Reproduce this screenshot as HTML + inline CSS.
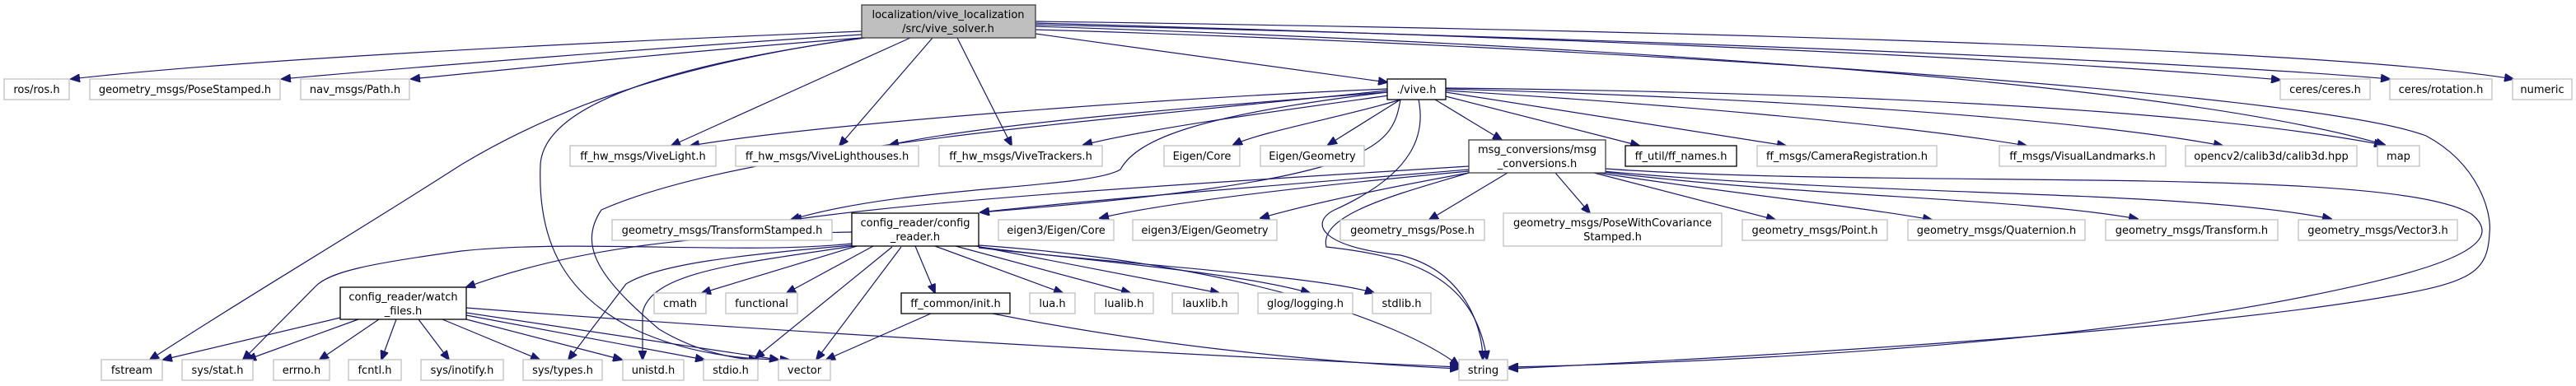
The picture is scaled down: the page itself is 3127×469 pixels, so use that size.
<!DOCTYPE html>
<html><head><meta charset="utf-8"><style>
html,body{margin:0;padding:0;background:#fff;}
svg{display:block;}
text{font-family:"DejaVu Sans","Liberation Sans",sans-serif;font-size:13px;fill:#000;text-anchor:middle;}
.e{fill:#fff;stroke:#bfbfbf;stroke-width:1.3;}
.d{fill:#fff;stroke:#000;stroke-width:1.3;}
path{fill:none;stroke:#191970;stroke-width:1.2;}
</style></head><body>
<svg width="3127" height="469" viewBox="0 0 3127 469" xmlns="http://www.w3.org/2000/svg">
<defs><marker id="a" markerWidth="12" markerHeight="10" refX="11" refY="5" orient="auto" markerUnits="userSpaceOnUse"><polygon points="0,0 12,5 0,10" fill="#191970" stroke="#191970"/></marker></defs>
<g marker-end="url(#a)">
<path d="M1046,38 C700,52 300,72 86,96"/>
<path d="M1046,42 C800,58 520,80 342,96"/>
<path d="M1046,46 C860,60 660,80 499,96"/>
<path d="M1048,46 C800,80 660,140 560,200 C420,290 300,360 182,437"/>
<path d="M1050,46 C800,80 660,130 656,200 C652,300 690,360 770,400 C850,437 930,437 958,437"/>
<path d="M1105,46 L815,177"/>
<path d="M1132,46 L1019,177"/>
<path d="M1162,46 L1228,177"/>
<path d="M1257,41 L1684,100"/>
<path d="M1257,28 C1700,40 2400,65 2768,97"/>
<path d="M1257,30 C1800,42 2600,70 2901,96"/>
<path d="M1257,26 C1900,35 2800,55 3051,96"/>
<path d="M1257,32 C1800,50 2600,90 2895,176"/>
<path d="M1257,36 C1900,55 2800,110 2945,165 C3010,200 3025,260 3022,283 C3020,330 3001,343 2900,360 C2700,395 2300,425 1832,448"/>
<path d="M1684,108 C1400,120 1000,150 838,177"/>
<path d="M1684,112 C1450,130 1200,150 1080,176"/>
<path d="M1686,116 C1550,135 1400,155 1315,176"/>
<path d="M1700,121 C1640,140 1530,160 1497,176"/>
<path d="M1700,121 L1612,176"/>
<path d="M1742,121 L1823,170"/>
<path d="M1755,117 L1990,177"/>
<path d="M1755,112 L2168,177"/>
<path d="M1755,110 C2000,125 2300,150 2460,177"/>
<path d="M1755,108 C2100,118 2500,140 2698,177"/>
<path d="M1755,107 C2200,112 2650,130 2893,176"/>
<path d="M1684,112 C1450,140 1380,170 1360,206 C1320,230 1100,225 960,267"/>
<path d="M1684,110 C1300,150 900,180 730,255 C700,300 730,340 800,400 C850,430 900,437 920,437"/>
<path d="M1700,121 C1690,180 1670,220 1190,258"/>
<path d="M1722,121 C1730,160 1720,210 1620,255 C1590,270 1600,300 1700,310 C1780,330 1800,400 1800,437"/>
<path d="M1783,202 C1500,220 1150,240 962,267"/>
<path d="M1783,206 C1550,225 1300,245 1190,258"/>
<path d="M1783,208 C1600,225 1420,245 1335,265"/>
<path d="M1783,210 C1700,225 1600,245 1530,265"/>
<path d="M1830,210 L1735,267"/>
<path d="M1888,210 L1930,259"/>
<path d="M1935,210 L2155,267"/>
<path d="M1940,210 C2100,235 2250,250 2345,267"/>
<path d="M1945,209 C2200,240 2450,240 2595,266"/>
<path d="M1945,208 C2300,240 2650,230 2830,266"/>
<path d="M1783,210 C1700,235 1600,260 1610,300 C1700,310 1790,330 1805,437"/>
<path d="M1949,205 C2300,230 2900,200 3000,260 C3050,300 2950,330 2800,360 C2500,420 2100,440 1832,446"/>
<path d="M1034,282 C850,285 700,300 566,349"/>
<path d="M1040,299 L852,356"/>
<path d="M1060,299 L955,356"/>
<path d="M1111,299 L1135,356"/>
<path d="M1135,299 L1290,356"/>
<path d="M1160,299 L1372,356"/>
<path d="M1185,299 L1480,356"/>
<path d="M1188,300 C1300,315 1500,330 1590,356"/>
<path d="M1188,301 C1350,320 1600,335 1668,356"/>
<path d="M1083,300 L917,435"/>
<path d="M1094,300 L991,437"/>
<path d="M1034,296 C900,310 700,290 560,305 C450,320 400,330 383,348 L295,437"/>
<path d="M1034,298 C900,310 800,320 760,345 L690,437"/>
<path d="M1036,299 C900,320 790,330 780,380 L780,437"/>
<path d="M1188,298 C1500,320 1700,390 1771,444"/>
<path d="M413,386 L198,437"/>
<path d="M435,388 L300,437"/>
<path d="M460,388 L388,437"/>
<path d="M481,388 L463,437"/>
<path d="M508,388 L545,437"/>
<path d="M537,388 L655,437"/>
<path d="M566,388 L755,437"/>
<path d="M566,383 L855,437"/>
<path d="M566,380 L945,437"/>
<path d="M566,374 C900,400 1400,430 1771,446"/>
<path d="M1130,381 L1003,437"/>
<path d="M1205,381 C1400,420 1600,440 1771,448"/>
</g>
<rect class="d" x="1046" y="6" width="211" height="40" style="fill:#bfbfbf;stroke:#404040"/>
<text x="1151" y="22">localization/vive_localization</text><text x="1151" y="39">/src/vive_solver.h</text>

<rect class="e" x="5" y="96" width="79" height="25"/><text x="44.5" y="113">ros/ros.h</text>
<rect class="e" x="109" y="96" width="231" height="25"/><text x="224.5" y="113">geometry_msgs/PoseStamped.h</text>
<rect class="e" x="365" y="96" width="132" height="25"/><text x="431" y="113">nav_msgs/Path.h</text>
<rect class="d" x="1684" y="96" width="71" height="25"/><text x="1719.5" y="113">./vive.h</text>
<rect class="e" x="2768" y="96" width="109" height="25"/><text x="2822.5" y="113">ceres/ceres.h</text>
<rect class="e" x="2901" y="96" width="124" height="25"/><text x="2963" y="113">ceres/rotation.h</text>
<rect class="e" x="3050" y="96" width="72" height="25"/><text x="3086" y="113">numeric</text>

<rect class="e" x="692" y="177" width="177" height="25"/><text x="780.5" y="194">ff_hw_msgs/ViveLight.h</text>
<rect class="e" x="893" y="177" width="222" height="25"/><text x="1004" y="194">ff_hw_msgs/ViveLighthouses.h</text>
<rect class="e" x="1140" y="177" width="198" height="25"/><text x="1239" y="194">ff_hw_msgs/ViveTrackers.h</text>
<rect class="e" x="1413" y="177" width="92" height="25"/><text x="1459" y="194">Eigen/Core</text>
<rect class="e" x="1530" y="177" width="126" height="25"/><text x="1593" y="194">Eigen/Geometry</text>
<rect class="d" x="1783" y="170" width="166" height="40" style="stroke:#404040"/>
<text x="1866" y="186">msg_conversions/msg</text><text x="1866" y="203">_conversions.h</text>
<rect class="d" x="1973" y="177" width="135" height="25"/><text x="2040.5" y="194">ff_util/ff_names.h</text>
<rect class="e" x="2133" y="177" width="218" height="25"/><text x="2242" y="194">ff_msgs/CameraRegistration.h</text>
<rect class="e" x="2427" y="177" width="202" height="25"/><text x="2528" y="194">ff_msgs/VisualLandmarks.h</text>
<rect class="e" x="2653" y="177" width="208" height="25"/><text x="2757" y="194">opencv2/calib3d/calib3d.hpp</text>
<rect class="e" x="2886" y="177" width="51" height="25"/><text x="2911.5" y="194">map</text>

<rect class="e" x="743" y="267" width="267" height="25"/><text x="876.5" y="284">geometry_msgs/TransformStamped.h</text>
<rect class="d" x="1034" y="259" width="154" height="40"/>
<text x="1111" y="275">config_reader/config</text><text x="1111" y="292">_reader.h</text>
<rect class="e" x="1212" y="267" width="140" height="25"/><text x="1282" y="284">eigen3/Eigen/Core</text>
<rect class="e" x="1375" y="267" width="175" height="25"/><text x="1462.5" y="284">eigen3/Eigen/Geometry</text>
<rect class="e" x="1627" y="267" width="175" height="25"/><text x="1714.5" y="284">geometry_msgs/Pose.h</text>
<rect class="e" x="1825" y="259" width="265" height="40"/>
<text x="1957.5" y="275">geometry_msgs/PoseWithCovariance</text><text x="1957.5" y="292">Stamped.h</text>
<rect class="e" x="2115" y="267" width="176" height="25"/><text x="2203" y="284">geometry_msgs/Point.h</text>
<rect class="e" x="2316" y="267" width="215" height="25"/><text x="2423.5" y="284">geometry_msgs/Quaternion.h</text>
<rect class="e" x="2556" y="267" width="209" height="25"/><text x="2660.5" y="284">geometry_msgs/Transform.h</text>
<rect class="e" x="2790" y="267" width="193" height="25"/><text x="2886.5" y="284">geometry_msgs/Vector3.h</text>

<rect class="d" x="413" y="349" width="153" height="39"/>
<text x="489.5" y="365">config_reader/watch</text><text x="489.5" y="382">_files.h</text>
<rect class="e" x="794" y="356" width="63" height="25"/><text x="825.5" y="373">cmath</text>
<rect class="e" x="881" y="356" width="87" height="25"/><text x="924.5" y="373">functional</text>
<rect class="d" x="1094" y="356" width="132" height="25"/><text x="1160" y="373">ff_common/init.h</text>
<rect class="e" x="1250" y="356" width="55" height="25"/><text x="1277.5" y="373">lua.h</text>
<rect class="e" x="1329" y="356" width="71" height="25"/><text x="1364.5" y="373">lualib.h</text>
<rect class="e" x="1423" y="356" width="80" height="25"/><text x="1463" y="373">lauxlib.h</text>
<rect class="e" x="1527" y="356" width="115" height="25"/><text x="1584.5" y="373">glog/logging.h</text>
<rect class="e" x="1666" y="356" width="71" height="25"/><text x="1701.5" y="373">stdlib.h</text>

<rect class="e" x="123" y="437" width="74" height="25"/><text x="160" y="454">fstream</text>
<rect class="e" x="221" y="437" width="86" height="25"/><text x="264" y="454">sys/stat.h</text>
<rect class="e" x="332" y="437" width="68" height="25"/><text x="366" y="454">errno.h</text>
<rect class="e" x="423" y="437" width="64" height="25"/><text x="455" y="454">fcntl.h</text>
<rect class="e" x="511" y="437" width="100" height="25"/><text x="561" y="454">sys/inotify.h</text>
<rect class="e" x="635" y="437" width="96" height="25"/><text x="683" y="454">sys/types.h</text>
<rect class="e" x="756" y="437" width="74" height="25"/><text x="793" y="454">unistd.h</text>
<rect class="e" x="854" y="437" width="66" height="25"/><text x="887" y="454">stdio.h</text>
<rect class="e" x="945" y="437" width="63" height="25"/><text x="976.5" y="454">vector</text>
<rect class="e" x="1771" y="437" width="59" height="25"/><text x="1800.5" y="454">string</text>
</svg>
</body></html>
